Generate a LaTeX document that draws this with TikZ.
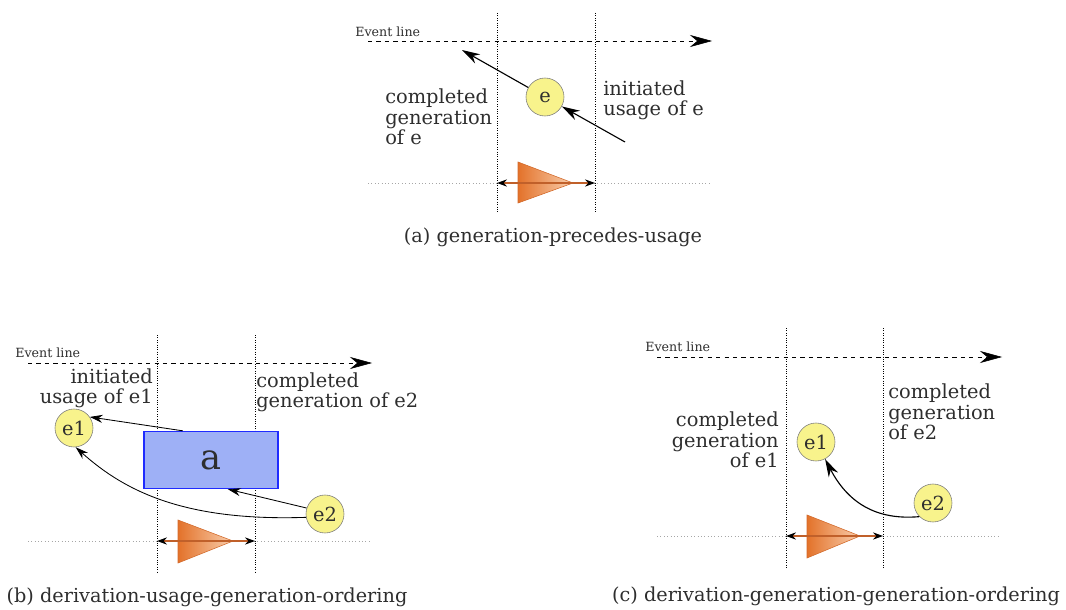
\documentclass[tikz,border=0pt]{standalone}
\usepackage{fontspec}
\setmainfont{DejaVu Serif}
\usepackage{xcolor}
\usepackage{tikz}
\usetikzlibrary{arrows.meta}
\usetikzlibrary{calc}

\definecolor{evtfill}{HTML}{F8F38C}
\definecolor{evtline}{HTML}{7C7C7C}
\definecolor{actfill}{HTML}{9EB0F6}
\definecolor{actline}{HTML}{1F2BFF}
\definecolor{tridark}{HTML}{E3722A}
\definecolor{trilight}{HTML}{F9CFAE}
\definecolor{triline}{HTML}{D2692A}
\definecolor{spanline}{HTML}{C0602A}
\definecolor{txt}{HTML}{2E2E2E}

\newcommand{\lblfont}{\fontsize{13.8}{14.5}\selectfont}
\newcommand{\capfont}{\fontsize{13.7}{15}\selectfont}
\newcommand{\evtfont}{\fontsize{9}{10}\selectfont}

\tikzset{
  evt/.style={circle, draw=evtline, fill=evtfill, minimum size=0.95cm, inner sep=0pt, font=\lblfont},
  act/.style={draw=actline, thick, fill=actfill, minimum width=3.35cm, minimum height=1.43cm, font=\fontsize{25}{25}\selectfont},
  lbl/.style={inner sep=0pt, font=\lblfont},
  capt/.style={inner sep=0pt, font=\capfont},
  evtlbl/.style={inner sep=0pt, anchor=west, font=\evtfont},
  eventline/.style={dashed, -{Stealth[length=0.55cm, width=0.3cm]}},
  boundary/.style={densely dotted, line width=0.7pt},
  ground/.style={dotted, gray!70},
  tri/.style={draw=triline, left color=tridark, right color=trilight},
  span/.style={spanline, line width=0.8pt, {Stealth[black, length=0.25cm, width=0.18cm]}-{Stealth[black, length=0.25cm, width=0.18cm]}},
  flow/.style={line width=0.8pt, -{Stealth[length=0.45cm, width=0.26cm]}},
  thinflow/.style={line width=0.6pt, -{Stealth[length=0.32cm, width=0.2cm]}}
}

\begin{document}
\begin{tikzpicture}[x=0.025cm, y=-0.025cm, text=txt]
  \useasboundingbox (0,0) rectangle (1066,610);

  % (a) generation precedes usage
  \draw[ground] (368,183) -- (712,183);
  \foreach \x in {497,595} {
    \draw[boundary] (\x,13) -- (\x,212);
  }
  \node[evtlbl] (evA) at (355,32) {Event line};
  \draw[eventline] (368,41) -- (712,41);
  \node[evt] (e) at (545,97) {e};
  \coordinate (genA) at (462,50);
  \coordinate (useA) at (625,142);
  \draw[flow] (e) -- (genA);
  \draw[flow] (useA) -- (e);
  \node[lbl, anchor=west, align=left] (cgA) at (385,117) {completed\\generation\\of e};
  \node[lbl, anchor=west, align=left] (iuA) at (603,100) {initiated\\usage of e};
  \shadedraw[tri] (518,162) -- (573,183) -- (518,203) -- cycle;
  \draw[span] (497,183) -- (595,183);
  \node[capt] (capA) at (553,237) {(a) generation-precedes-usage};

  % (b) usage before generation
  \draw[ground] (28,541) -- (372,541);
  \foreach \x in {157,255} {
    \draw[boundary] (\x,335) -- (\x,573);
  }
  \node[evtlbl] (evB) at (15,353) {Event line};
  \draw[eventline] (28,363) -- (372,363);
  \node[lbl, anchor=east, align=right] (iuB) at (153,388) {initiated\\usage of e1};
  \node[lbl, anchor=west, align=left] (cgB) at (256,392) {completed\\generation of e2};
  \node[act] (a) at (211,460) {a};
  \node[evt] (e1b) at (74,428) {e1};
  \node[evt] (e2b) at (325,514) {e2};
  \draw[thinflow] (a.134) -- (e1b.35);
  \draw[thinflow] (e2b.162) -- (a.-60);
  \draw[thinflow] (e2b.190) .. controls +(-120,4) and +(50,45) .. (e1b.-85);
  \shadedraw[tri] (178,520) -- (233,541) -- (178,563) -- cycle;
  \draw[span] (157,541) -- (255,541);
  \node[capt] (capB) at (207,597) {(b) derivation-usage-generation-ordering};

  % (c) generation before generation
  \draw[ground] (657,536) -- (1000,536);
  \foreach \x in {786,883} {
    \draw[boundary] (\x,328) -- (\x,568);
  }
  \node[evtlbl] (evC) at (645,347) {Event line};
  \draw[eventline] (657,357) -- (1002,357);
  \node[lbl, anchor=east, align=right] (cgC1) at (779,440) {completed\\generation\\of e1};
  \node[lbl, anchor=west, align=left] (cgC2) at (888,412) {completed\\generation\\of e2};
  \node[evt] (e1c) at (816,442) {e1};
  \node[evt] (e2c) at (933,503) {e2};
  \draw[flow] (e2c.225) .. controls +(-45,4) and +(22,42) .. (e1c.-62);
  \shadedraw[tri] (807,515) -- (860,536) -- (807,558) -- cycle;
  \draw[span] (786,536) -- (883,536);
  \node[capt] (capC) at (836,596) {(c) derivation-generation-generation-ordering};
\end{tikzpicture}
\end{document}
